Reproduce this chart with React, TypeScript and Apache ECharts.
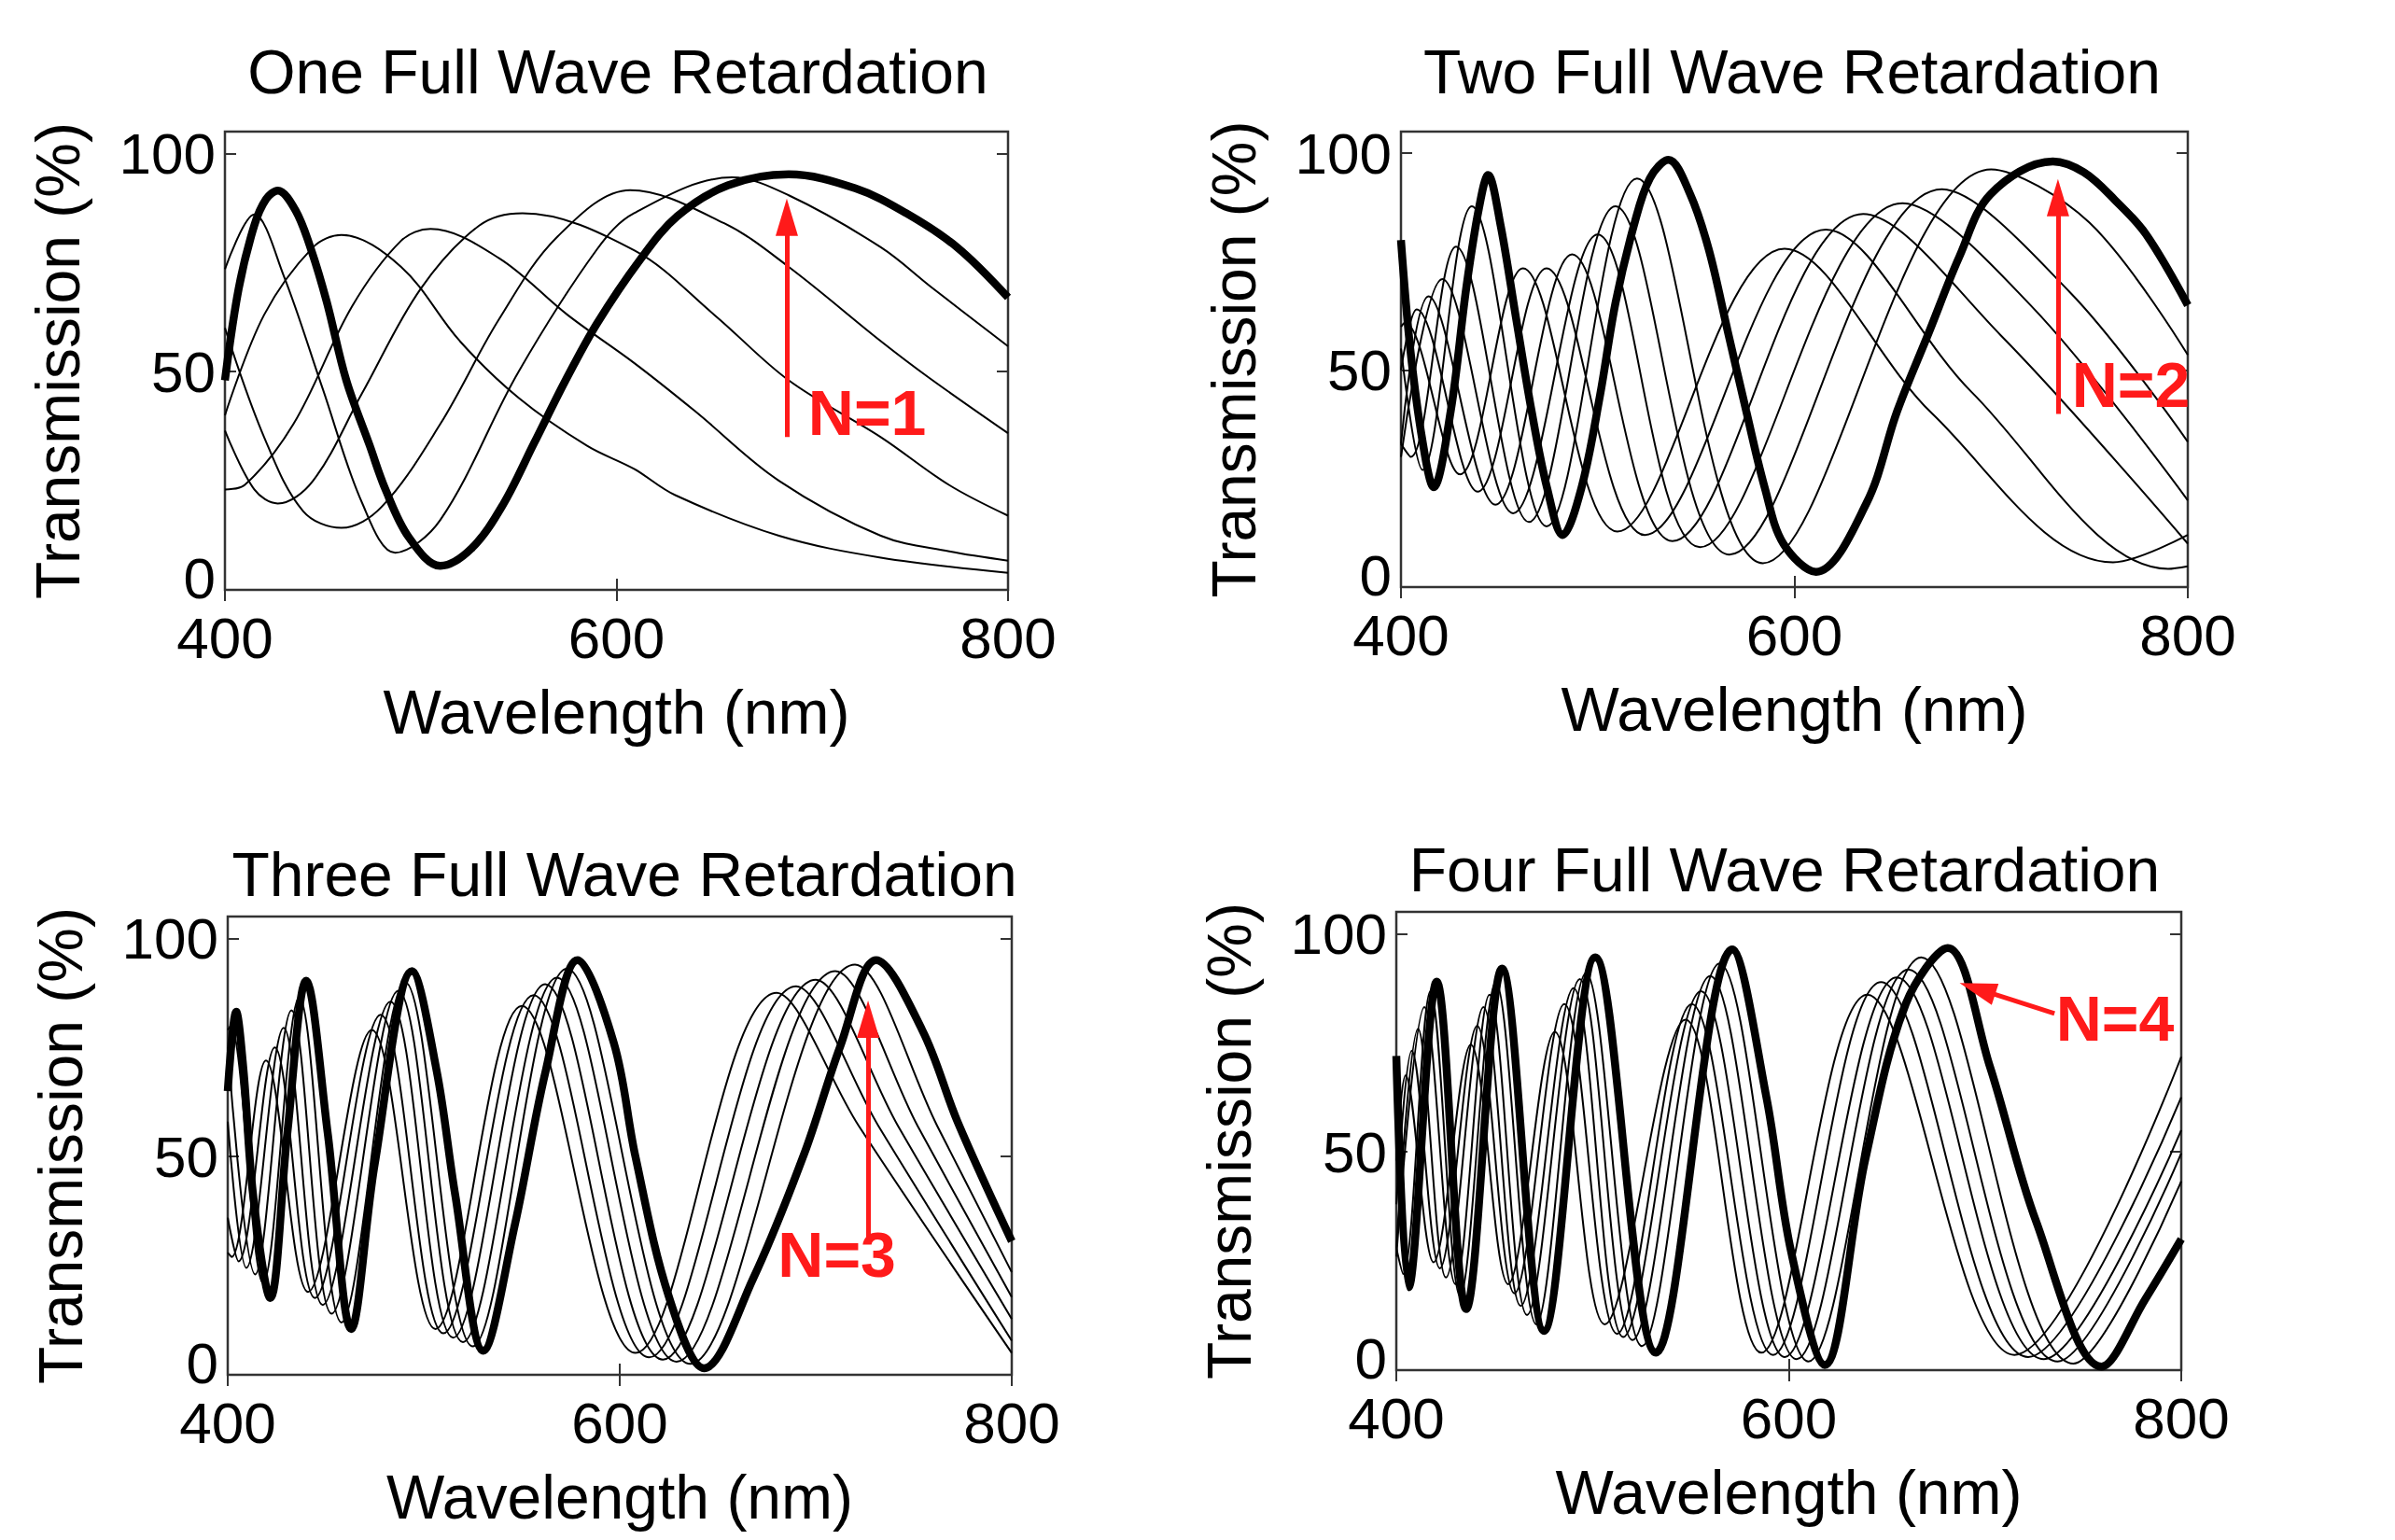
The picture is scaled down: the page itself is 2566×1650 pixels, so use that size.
import React, { useEffect, useRef } from 'react';
import * as echarts from 'echarts';

// ---------- texts & ticks ----------
const titles = ['One Full Wave Retardation', 'Two Full Wave Retardation', 'Three Full Wave Retardation', 'Four Full Wave Retardation'];
const xName = 'Wavelength (nm)';
const yName = 'Transmission (%)';
const xTicks = [400, 600, 800];
const yTicks = [0, 50, 100];

// ---------- panel 1 (N=1) ----------
const p1Thick = [[400,48],[407,69],[415,83.5],[421,89.5],[427,91.5],[436,87],[444,78],[452,66],[462,48],[474,33],[482,23],[494,12],[510,5.5],[526,9.5],[542,19.5],[558,33.7],[574,48],[590,61],[612,75.6],[631,85.6],[657,92.7],[688,95.2],[722,92],[748,86.3],[774,78.5],[800,67]];
const p1Thin = [
  [[400,73.5],[415,86],[430,72],[450,46],[470,20],[487,8.5],[510,16],[550,50],[590,78],[609,86.3],[659,94.5],[688,90.4],[735,78.5],[761,69.3],[800,55.8]],
  [[400,60],[420,35],[440,18],[459.5,14.2],[480,19],[510,38],[540,62],[570,81],[607,91.6],[655,84],[688,74],[735,57],[760,48.5],[800,35.9]],
  [[400,36.5],[415,23],[427,19.8],[445,25],[470,45],[500,69],[530,83.5],[552,86.3],[609,77.8],[650,63],[688,48],[735,35],[770,24],[800,17]],
  [[400,23],[410,24],[435,38],[465,65],[490,80],[505,82.7],[540,76],[575,63],[609,52],[640,41],[683,25],[735,12.4],[770,8.8],[800,6.7]],
  [[400,40],[420,63],[445,78.5],[459.5,81.3],[490,74],[520,57],[550,44],[585,33],[609,27.7],[630,21.7],[683,12.4],[735,7.4],[800,3.9]],
];

// ---------- panel 2 (N=2) ----------
const p2Thick = [[400,80],[404.7,55],[411,33.5],[416.6,23],[425.3,40.6],[433.2,69],[439.5,87],[444.3,95],[450.6,83.5],[458.5,62],[466.4,40.6],[474.3,22.8],[482.2,12],[491.7,22.8],[501.2,44.2],[509.1,65.6],[518.5,83.5],[526.5,94.2],[536,98.5],[547,90.6],[556.5,77.8],[566,59.2],[575.5,40.6],[585,22.8],[594.4,10],[611,3.5],[636.5,19.2],[652.3,40.6],[668.2,58.5],[684,76.3],[699.8,90.6],[731.4,98.1],[747.2,95.6],[763,89.2],[778.8,81.3],[800,65]];
const p2Thin = [
  [[400,55],[411,27],[436,87.8],[474,14],[520,94.2],[584,5.5],[700,96.3],[750,84],[800,53.5]],
  [[400,33],[405,30],[428,78.5],[465,15],[509,87.8],[567,7.5],[675,91.7],[740,68],[800,33.5]],
  [[400,30],[421,71],[457,17],[500,81.3],[552,9.2],[655,88.5],[720,65],[800,20]],
  [[400,33],[414,67],[448,19],[487,76.7],[538,10.6],[635,86],[705,58],[800,10]],
  [[400,50],[408,64],[439,22],[474,73.5],[524,12],[616,82.4],[690,45],[790,4.2],[800,4.8]],
  [[400,60],[402,61],[430,26],[462,73.5],[510,12.8],[595,78],[670,40],[762,5.7],[800,12]],
];

// ---------- panel 3 (N=3) ----------
const p3Thick = [[400,65],[404.3,83.2],[408,70],[413,41],[421.7,17.6],[430.4,55.4],[440,90.3],[451,55.4],[463,10.5],[475,48.3],[494,92.5],[506.6,69.6],[516.1,41.1],[530.4,5.5],[546.3,34],[562.2,69.6],[578.5,95],[597,76],[608,50],[625,18],[643,1.5],[668,22],[694,50.5],[712.6,75.4],[730.8,95],[754.3,79],[772.6,57.7],[800,30.6]];
const p3Thin = [
  [[400,79],[401.5,80],[418,21],[436.5,86.5],[458,12],[490.5,90],[525,6.5],[573,93],[636,2.5],[720,94],[762,57],[800,23.5]],
  [[400,75],[414,23],[432.5,83.5],[453,14],[487,88],[520,7.5],[568,91],[629,3],[710,92.5],[752,57],[800,17.8]],
  [[400,58],[409.5,24.5],[428.5,79.5],[448.5,16],[483,85.5],[515,8.5],[562,89.5],[622,3.5],[700,90.5],[742,57],[800,12.8]],
  [[400,36],[405.5,26],[424,75],[444.5,17.6],[478,82.5],[510,9.5],[556,87],[615,4],[690,89],[732,57],[800,7.8]],
  [[400,28],[402,27],[419.5,72],[441,19],[473.5,79],[506,10.5],[550,84.5],[608,5],[680,87.5],[722,57],[800,5]],
];

// ---------- panel 4 (N=4) ----------
const p4Thick = [[400,72],[406.3,19],[420.6,89],[435.6,14],[453.9,92],[475.3,9],[501.4,94.6],[532.3,4],[571.2,96.4],[588.6,62.5],[601.3,26.9],[618.3,1.2],[639,48.3],[659.6,83.9],[681,96.7],[702.4,69.7],[726.1,34],[759.4,0.8],[781.6,16.2],[800,30]];
const p4Thin = [
  [[400,28],[403.5,22],[417.4,86.8],[432.5,16.9],[450.7,88.9],[471.3,10.5],[496.7,91],[525.2,5.5],[564.8,93.2],[610,2],[667.5,94.6],[745,1.5],[800,43.3]],
  [[400,26],[414.3,83.2],[430.1,19.7],[447.5,86],[466.6,12.6],[493.5,89.6],[520.4,6.9],[560,90.3],[604,2.5],[661,91.8],[737,2],[800,49.7]],
  [[400,28],[411.1,78.2],[425.3,21.2],[444.4,83.2],[463.4,14.7],[490.3,87.5],[515.7,7.6],[555.3,86.8],[598,3],[655,90],[730,2.5],[800,55]],
  [[400,38],[407.9,73.2],[422.2,23.3],[441.2,78.9],[460.2,17.6],[485.6,83.9],[512.5,8.3],[550.6,83.9],[592,3.5],[647,88.9],[722,3],[800,62.5]],
  [[400,48],[404.7,67.5],[419,24.7],[438,74.6],[457,19.7],[480.8,77.5],[506.2,10.5],[547.4,80.3],[586,4],[640,86],[715,3.5],[800,71.8]],
];

// ---------- annotations ----------
const annotationText = ['N=1', 'N=2', 'N=3', 'N=4'];
const annotationPos = [[728.3, 40.5], [771.3, 46.6], [711, 27.5], [766.5, 80.6]];
const arrowFrom = [[687, 35], [734, 39.9], [726.7, 30.7], [735.4, 81.7]];
const arrowTo = [[687, 85.4], [734, 89.8], [726.7, 81.5], [696.1, 87.4]];

// ---------- layout / style ----------
const FONT = '"Liberation Sans", Arial, Helvetica, sans-serif';
const RED = '#ff1a1a';
const AXIS = '#333333';
const grids = [
  { left: 241, top: 141, width: 839, height: 491 },
  { left: 1501, top: 141, width: 843, height: 488 },
  { left: 244, top: 982, width: 840, height: 491 },
  { left: 1496, top: 977, width: 841, height: 491 },
];
const titleCenters = [[662, 44], [1920, 44], [669, 904], [1912, 899]];

function buildOption() {
  const panels = [
    { thick: p1Thick, thin: p1Thin },
    { thick: p2Thick, thin: p2Thin },
    { thick: p3Thick, thin: p3Thin },
    { thick: p4Thick, thin: p4Thin },
  ];
  const tick = { show: true, inside: true, length: 12, lineStyle: { color: AXIS, width: 2 } };
  const labelText = { fontSize: 62, color: '#000', fontFamily: FONT };
  const xAxis: any[] = [];
  const yAxis: any[] = [];
  const series: any[] = [];
  grids.forEach((_, i) => {
    xAxis.push({
      type: 'value', gridIndex: i, min: 400, max: 800, interval: 200, position: 'bottom',
      axisLine: { show: false }, splitLine: { show: false },
      axisTick: { ...tick, customValues: xTicks },
      axisLabel: { show: true, margin: 20, lineHeight: 62, ...labelText, customValues: xTicks },
      name: xName, nameLocation: 'middle', nameGap: 98, nameMoveOverlap: false,
      nameTextStyle: { fontSize: 66, color: '#000', fontFamily: FONT },
    });
    xAxis.push({
      type: 'value', gridIndex: i, min: 400, max: 800, interval: 200, position: 'top',
      axisLine: { show: false }, splitLine: { show: false },
      axisTick: { ...tick, customValues: xTicks }, axisLabel: { show: false },
    });
    yAxis.push({
      type: 'value', gridIndex: i, min: 0, max: 105, interval: 50, position: 'left',
      axisLine: { show: false }, splitLine: { show: false },
      axisTick: { ...tick, customValues: yTicks },
      axisLabel: {
        show: true, margin: 10, lineHeight: 62, ...labelText, customValues: yTicks,
        formatter: (v: number) => (v === 0 ? '{z|0}' : String(v)),
        rich: { z: { ...labelText, lineHeight: 62, padding: [0, 0, 26, 0] } },
      },
      name: yName, nameLocation: 'middle', nameGap: 146, nameRotate: 90, nameMoveOverlap: false,
      nameTextStyle: { fontSize: 66, color: '#000', fontFamily: FONT },
    });
    yAxis.push({
      type: 'value', gridIndex: i, min: 0, max: 105, interval: 50, position: 'right',
      axisLine: { show: false }, splitLine: { show: false },
      axisTick: { ...tick, customValues: yTicks }, axisLabel: { show: false },
    });
  });
  panels.forEach((p, i) => {
    const xi = 2 * i;
    const yi = 2 * i;
    p.thin.forEach((d) => {
      series.push({
        type: 'line', xAxisIndex: xi, yAxisIndex: yi, data: d, showSymbol: false, symbol: 'none',
        smooth: 0.35, silent: true, z: 2, lineStyle: { color: '#000', width: 2 },
      });
    });
    series.push({
      type: 'line', xAxisIndex: xi, yAxisIndex: yi, data: p.thick, showSymbol: false, symbol: 'none',
      smooth: 0.35, silent: true, z: 3, lineStyle: { color: '#000', width: 8.5 },
      markLine: {
        silent: true, symbol: ['none', 'triangle'], symbolSize: [24, 40], animation: false,
        label: { show: false }, emphasis: { disabled: true },
        lineStyle: { color: RED, width: 5, type: 'solid', opacity: 1 },
        itemStyle: { color: RED, opacity: 1 },
        data: [[{ coord: arrowFrom[i] }, { coord: arrowTo[i] }]],
      },
    });
    series.push({
      type: 'scatter', xAxisIndex: xi, yAxisIndex: yi, data: [annotationPos[i]], symbolSize: 1,
      silent: true, z: 6, itemStyle: { color: RED, opacity: 0 }, emphasis: { disabled: true },
      label: {
        show: true, position: [0, 0], align: 'center', verticalAlign: 'middle',
        formatter: annotationText[i], fontSize: 68, fontWeight: 'bold',
        color: RED, opacity: 1, textBorderWidth: 0, fontFamily: FONT,
      },
    });
  });
  return {
    animation: false,
    backgroundColor: '#ffffff',
    title: titles.map((t, i) => ({
      text: t, left: titleCenters[i][0], top: titleCenters[i][1], textAlign: 'center', padding: 0,
      textStyle: { fontSize: 66, fontWeight: 'normal', color: '#000', fontFamily: FONT },
    })),
    grid: grids.map((g) => ({
      ...g, show: true, borderColor: AXIS, borderWidth: 2.5, backgroundColor: 'transparent',
      containLabel: false, outerBoundsMode: 'none',
    })),
    xAxis, yAxis, series,
  };
}

export default function App() {
  const ref = useRef<HTMLDivElement>(null);
  useEffect(() => {
    document.body.style.margin = '0';
    if (!ref.current) return;
    const chart = echarts.init(ref.current, null, { renderer: 'svg' });
    chart.setOption(buildOption() as any);
    return () => chart.dispose();
  }, []);
  return <div ref={ref} style={{ width: 2566, height: 1650, background: '#fff' }} />;
}
